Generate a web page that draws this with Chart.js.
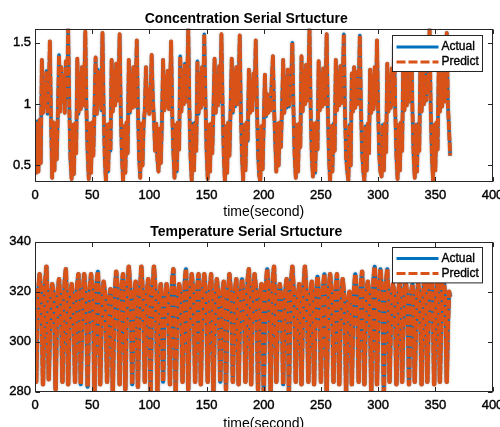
<!DOCTYPE html>
<html>
<head>
<meta charset="utf-8">
<script src="https://cdn.jsdelivr.net/npm/chart.js@4.4.0/dist/chart.umd.min.js"></script>
<style>
html,body{margin:0;padding:0;background:#fff;overflow:hidden;}
#wrap{position:relative;width:500px;height:427px;overflow:hidden;}
canvas{position:absolute;left:0;top:0;}
</style>
</head>
<body>
<div id="wrap">
  <canvas id="concChart" width="500" height="440" style="width:500px;height:440px"></canvas>
  <canvas id="tempChart" width="500" height="440" style="width:500px;height:440px"></canvas>
</div>
<script>
// one sample per second, t = 0 .. 363
const concActual=[
  0.70,0.44,0.86,0.45,0.87,0.52,1.36,0.93,1.14,0.98,
  1.27,0.92,1.05,1.51,0.90,0.40,0.85,0.46,0.84,0.55,
  0.93,1.40,0.94,1.30,1.02,1.23,0.93,1.35,1.05,1.614,
  0.98,0.55,0.39,0.83,0.43,0.84,0.60,1.37,0.92,1.25,
  0.96,1.30,0.99,1.15,1.59,0.95,0.60,0.39,0.84,0.44,
  0.85,0.58,0.95,1.38,0.92,1.28,1.00,1.22,0.95,1.58,
  0.97,0.56,0.37,0.83,0.45,0.84,0.62,1.36,0.94,1.27,
  0.99,1.33,1.03,1.12,1.57,0.93,0.58,0.37,0.82,0.44,
  0.85,0.60,1.36,0.93,1.24,0.97,1.30,0.98,1.10,1.52,
  0.96,0.57,0.40,0.84,0.50,0.84,0.95,1.30,0.95,1.12,
  0.92,1.05,1.40,1.05,0.88,0.62,0.84,0.55,0.45,0.80,
  0.52,0.86,1.36,0.95,1.22,0.98,1.27,0.96,1.10,1.51,
  0.92,0.60,0.40,0.83,0.45,0.85,0.63,1.39,0.94,1.27,
  1.00,1.33,1.02,1.15,1.614,0.96,0.57,0.38,0.84,0.46,
  0.85,0.62,1.35,0.92,1.25,0.97,1.30,1.00,1.57,1.05,
  0.62,0.39,0.83,0.45,0.84,0.60,0.95,1.37,0.93,1.24,
  0.99,1.31,1.02,1.57,1.00,0.60,0.37,0.82,0.44,0.85,
  0.58,0.96,1.37,0.93,1.26,0.98,1.30,1.00,1.14,1.56,
  0.94,0.56,0.38,0.83,0.46,0.85,0.70,1.28,0.93,1.18,
  0.95,1.25,1.05,1.52,1.00,0.60,0.42,0.37,0.82,0.47,
  0.84,1.24,0.90,1.08,0.93,1.02,0.95,1.20,1.39,0.98,
  0.70,0.45,0.84,0.50,0.85,0.65,0.98,1.36,0.93,1.22,
  0.97,1.28,0.98,1.12,1.20,1.50,0.95,0.58,0.40,0.83,
  0.45,0.84,0.65,1.39,0.94,1.27,1.00,1.32,1.03,1.16,
  1.614,0.97,0.57,0.41,0.84,0.44,0.85,0.63,1.35,0.95,
  1.24,0.98,1.29,1.00,1.12,1.57,0.96,0.58,0.37,0.82,
  0.45,0.84,0.62,1.36,0.95,1.25,0.99,1.31,1.01,1.14,
  1.57,0.95,0.57,0.45,0.38,0.83,0.50,1.25,0.94,1.30,
  0.97,1.26,1.00,1.12,1.56,0.98,0.60,0.45,0.37,0.82,
  0.46,0.84,0.60,1.28,0.93,1.23,0.96,1.30,1.00,1.52,
  0.95,0.58,0.45,0.41,0.83,0.46,0.84,0.61,1.33,0.94,
  1.23,0.97,1.29,1.00,1.48,0.94,0.57,0.39,0.83,0.46,
  0.85,0.62,1.36,0.95,1.26,0.99,1.31,1.02,1.15,1.52,
  0.96,0.58,0.40,0.83,0.45,0.84,0.62,1.37,0.94,1.27,
  1.00,1.33,1.03,1.18,1.10,1.614,0.96,0.58,0.38,0.83,
  0.46,0.85,0.63,1.32,0.94,1.24,0.98,1.28,1.02,1.15,
  1.58,1.00,0.80,0.58
];
// prediction lies on top of the measured trace at this scale
const concPredict=concActual.slice();

const tempActual=[
  318,
  284,306,321,327,322,311, 283,309,324,330,314, 285,304,319,323,320,310,
  281,306,320,325,317,309, 284,310,324,329,313, 283,303,318,323,319,308,
  284,309,323,327,312, 283,305,320,327,321,310, 282,306,321,327,322,311,
  280,310,324,328,313, 283,304,319,324,320,309, 284,306,318,321,312,
  280,305,321,328,322,310, 283,309,323,327,313, 281,306,322,330,323,311,
  283,308,320,324,312, 282,305,322,330,321,310, 284,308,321,325,312,
  280,306,322,330,323,311, 280,308,320,323,311, 284,305,318,323,319,309,
  283,310,325,329,313, 280,304,318,323,320,310, 284,309,324,329,314,
  281,305,321,327,322,311, 284,308,322,327,313, 283,306,321,327,321,310,
  284,308,322,327,312, 280,305,319,325,320,309, 284,307,320,324,312,
  281,306,321,327,321,310, 284,308,321,325,313, 283,305,320,325,319,309,
  284,310,325,329,314, 283,306,321,327,322,311, 281,307,320,323,312,
  280,307,323,329,322,310, 280,310,325,330,314, 284,304,319,323,319,309,
  283,308,321,325,313, 280,307,324,330,322,310, 284,307,319,323,312,
  283,306,323,330,322,311, 284,307,320,324,312, 283,305,320,326,321,310,
  284,308,322,327,313, 280,305,321,327,321,310, 284,308,322,327,313,
  283,305,319,325,320,309, 280,306,317,320,311, 283,306,321,327,321,310,
  284,309,323,328,313, 283,305,320,324,320,309, 280,309,325,330,314,
  283,306,323,329,322,310, 280,309,324,329,314, 284,305,319,323,320,309,
  283,308,321,325,313, 284,305,320,325,320,310, 283,307,320,323,312,
  284,305,319,323,320,309, 283,309,323,327,313, 284,306,323,329,322,310,
  283,308,322,325,313, 284,306,323,328,321,310, 284,307,320,318
];
const tempPredict=tempActual.slice();

const xTicks=[0,50,100,150,200,250,300,350,400];
const concTicks=[0.5,1,1.5];
const tempTicks=[280,300,320,340];

const BLUE='#0072BD', ORANGE='#D95319', INK='#262626';
Chart.defaults.font.family="'Liberation Sans', Arial, Helvetica, sans-serif";
Chart.defaults.color='#000';

function toPts(arr){return arr.map((v,i)=>({x:i,y:v}));}

// soft grey edge under the traces, like the exported figure
const traceHalo={
  id:'traceHalo',
  beforeDatasetDraw(chart,args){
    if(args.index!==0) return;
    const ctx=chart.ctx;
    ctx.save();
    ctx.shadowColor='rgba(0,0,0,0.35)';
    ctx.shadowBlur=2.5;
  },
  afterDatasetDraw(chart,args){
    if(args.index!==0) return;
    chart.ctx.restore();
  }
};

// MATLAB-like box, inward ticks on all four sides and an opaque legend
const matlabAxes={
  id:'matlabAxes',
  afterDraw(chart,args,opts){
    const {ctx,chartArea:a,scales}=chart;
    const L=Math.round(a.left)+0.5, R=Math.round(a.right)-0.5;
    const T=Math.round(a.top)+0.5, B=Math.round(a.bottom)-0.5;
    ctx.save();
    ctx.strokeStyle=INK;ctx.lineWidth=1;ctx.setLineDash([]);
    ctx.beginPath();
    opts.xTicks.forEach(v=>{
      const p=Math.round(scales.x.getPixelForValue(v))+0.5;
      ctx.moveTo(p,B);ctx.lineTo(p,B-4.5);
      ctx.moveTo(p,T);ctx.lineTo(p,T+4.5);
    });
    opts.yTicks.forEach(v=>{
      const p=Math.round(scales.y.getPixelForValue(v))+0.5;
      ctx.moveTo(L,p);ctx.lineTo(L+4.5,p);
      ctx.moveTo(R,p);ctx.lineTo(R-4.5,p);
    });
    ctx.stroke();
    ctx.strokeRect(L,T,R-L,B-T);

    // legend
    const lg=opts.legend;
    const bx=Math.round(a.right-lg.right-lg.w)+0.5, by=Math.round(a.top+lg.top)+0.5;
    ctx.fillStyle='#fff';
    ctx.fillRect(bx,by,lg.w,lg.h);
    ctx.strokeStyle=INK;ctx.lineWidth=1;
    ctx.strokeRect(bx,by,lg.w,lg.h);
    ctx.font="12px 'Liberation Sans', Arial, sans-serif";
    ctx.textBaseline='middle';ctx.textAlign='left';
    chart.data.datasets.forEach((ds,i)=>{
      const yy=by+lg.rows[i];
      ctx.strokeStyle=ds.borderColor;ctx.lineWidth=2.8;
      ctx.setLineDash(ds.borderDash?[9,3]:[]);
      ctx.beginPath();ctx.moveTo(bx+4,yy);ctx.lineTo(bx+46,yy);ctx.stroke();
      ctx.setLineDash([]);
      ctx.fillStyle='#000';ctx.strokeStyle='#000';ctx.lineWidth=0.35;
      ctx.fillText(ds.label,bx+49,yy);
      ctx.strokeText(ds.label,bx+49,yy);
    });
    ctx.restore();
  }
};

function makePanel(id,cfg){
  return new Chart(document.getElementById(id),{
    type:'line',
    data:{datasets:[
      {label:'Actual',data:toPts(cfg.actual),borderColor:BLUE,borderWidth:cfg.lw[0],
       pointRadius:0,tension:0,order:1,clip:0,borderJoinStyle:'round'},
      {label:'Predict',data:toPts(cfg.predict),borderColor:ORANGE,borderWidth:cfg.lw[1],
       borderDash:[9,1.6],pointRadius:0,tension:0,order:0,clip:0,borderJoinStyle:'round'}
    ]},
    options:{
      responsive:false,animation:false,events:[],
      layout:{padding:cfg.pad},
      plugins:{
        legend:{display:false},tooltip:{enabled:false},
        title:{display:true,text:cfg.title,color:'#000',
          font:{size:14,weight:'bold'},padding:cfg.titlePad},
        matlabAxes:{xTicks:xTicks,yTicks:cfg.yTicks,legend:cfg.legend}
      },
      scales:{
        x:{type:'linear',min:0,max:400,
          grid:{display:false,drawTicks:false},border:{display:false},
          afterBuildTicks:s=>{s.ticks=xTicks.map(v=>({value:v}));},
          afterFit:s=>{s.height=40;s.paddingLeft=0;s.paddingRight=0;},
          ticks:{padding:6,maxRotation:0,autoSkip:false,font:{size:13},color:'#000',
            textStrokeColor:'#000',textStrokeWidth:0.4,callback:v=>String(v)},
          title:{display:true,text:'time(second)',color:'#000',font:{size:14},padding:{top:0,bottom:cfg.xlabPad}}},
        y:{type:'linear',min:cfg.ymin,max:cfg.ymax,
          grid:{display:false,drawTicks:false},border:{display:false},
          afterBuildTicks:s=>{s.ticks=cfg.yTicks.map(v=>({value:v}));},
          afterFit:s=>{s.width=35;s.paddingTop=0;s.paddingBottom=0;},
          ticks:{padding:4,autoSkip:false,font:{size:13},color:'#000',
            textStrokeColor:'#000',textStrokeWidth:0.4,callback:v=>String(v)}}
      }
    },
    plugins:[traceHalo,matlabAxes]
  });
}

makePanel('concChart',{
  actual:concActual,predict:concPredict,
  title:'Concentration Serial Srtucture',
  ymin:0.369,ymax:1.614,yTicks:concTicks,lw:[3.4,3.9],
  pad:{top:0,right:7.5,bottom:218.5,left:0},
  titlePad:{top:11,bottom:1},xlabPad:1.1,
  legend:{right:10.5,top:6,w:90,h:36,rows:[11.5,26.5]}
});
makePanel('tempChart',{
  actual:tempActual,predict:tempPredict,
  title:'Temperature Serial Srtucture',
  ymin:280,ymax:340,yTicks:tempTicks,lw:[4.0,4.5],
  pad:{top:212,right:7.5,bottom:8.3,left:0},
  titlePad:{top:11.6,bottom:1.3},xlabPad:-0.5,
  legend:{right:10.5,top:5.6,w:90,h:35.4,rows:[11,26]}
});
</script>
</body>
</html>
